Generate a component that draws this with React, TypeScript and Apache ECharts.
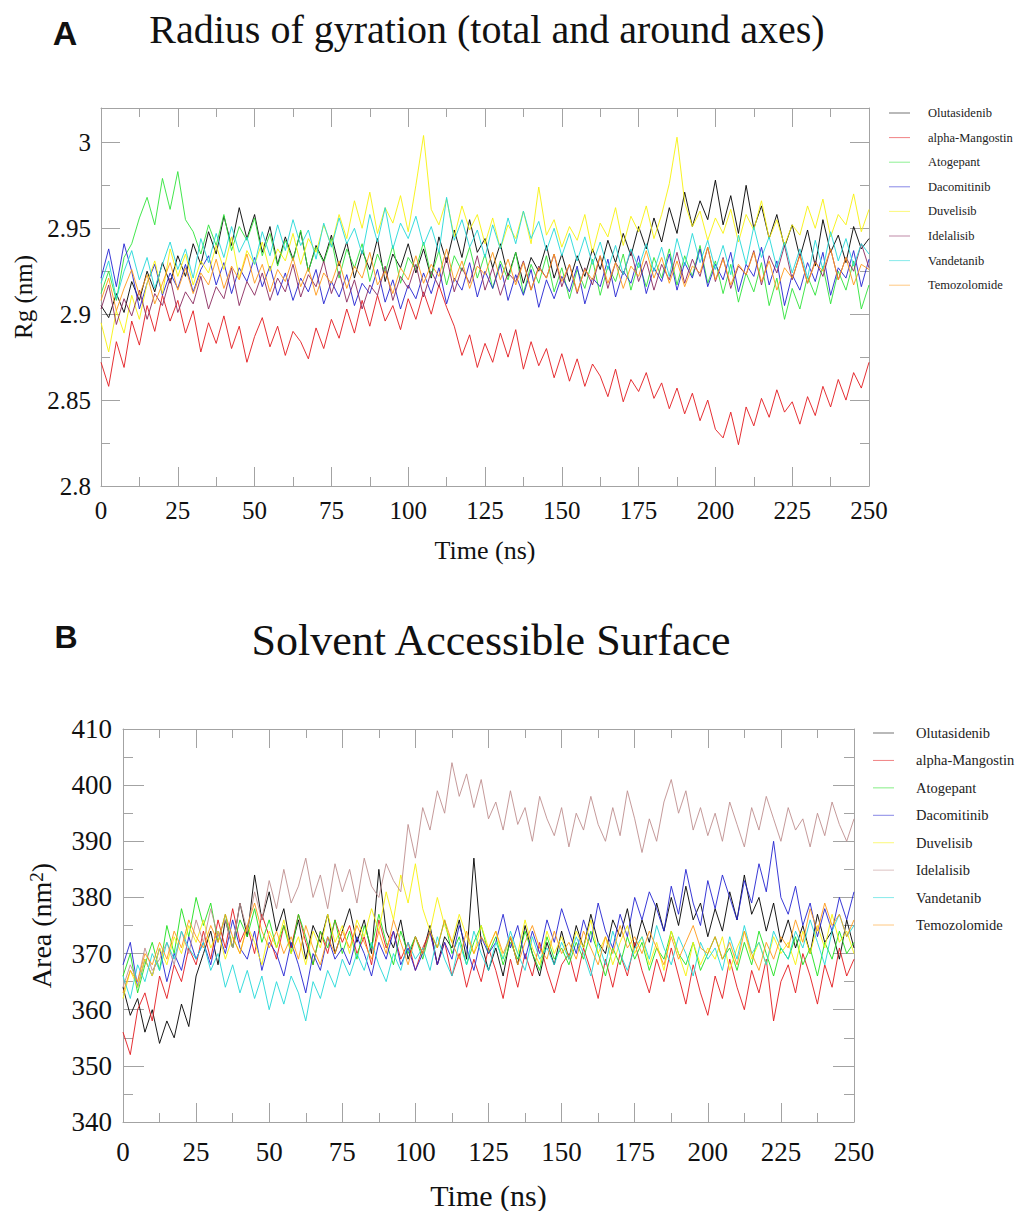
import React, { useEffect, useRef } from "react";
import * as echarts from "echarts";

const NAMES = ["Olutasidenib", "alpha-Mangostin", "Atogepant", "Dacomitinib", "Duvelisib", "Idelalisib", "Vandetanib", "Temozolomide"];
const COLORS_A = ["#000000", "#e3191e", "#2fe33a", "#2424d2", "#f7f20c", "#8c2a5e", "#22d8d8", "#ff9a1a"];
const COLORS_B = ["#000000", "#e3191e", "#1ee01e", "#2424d2", "#f7f20c", "#bf8f8f", "#22d8d8", "#ff9a1a"];

// sampling times (ns), every 2.5 ns from 0 to 250
const TIME_NS: number[] = Array.from({ length: 101 }, (_, i) => i * 2.5);

const X_TICKS = [0, 25, 50, 75, 100, 125, 150, 175, 200, 225, 250];
const RG_TICKS = [2.8, 2.85, 2.9, 2.95, 3];
const AREA_TICKS = [340, 350, 360, 370, 380, 390, 400, 410];

// ---------- Panel A: Radius of gyration (nm) ----------
const RG_OLUTASIDENIB = [
  2.905, 2.898, 2.912, 2.901, 2.919, 2.908, 2.925, 2.913, 2.930, 2.918, 2.934,
  2.922, 2.941, 2.929, 2.948, 2.935, 2.957, 2.940, 2.962, 2.944, 2.958,
  2.936, 2.951, 2.929, 2.945, 2.932, 2.948, 2.925, 2.940, 2.931, 2.946,
  2.928, 2.942, 2.921, 2.937, 2.926, 2.944, 2.919, 2.935, 2.927, 2.941,
  2.924, 2.938, 2.921, 2.945, 2.930, 2.949, 2.933, 2.955, 2.936, 2.944,
  2.927, 2.941, 2.922, 2.936, 2.918, 2.933, 2.925, 2.940, 2.921, 2.935,
  2.919, 2.934, 2.922, 2.938, 2.926, 2.943, 2.930, 2.947, 2.934, 2.951,
  2.938, 2.956, 2.942, 2.962, 2.947, 2.971, 2.951, 2.966, 2.955, 2.978,
  2.952, 2.969, 2.947, 2.975, 2.950, 2.963, 2.944, 2.958, 2.939, 2.952,
  2.933, 2.949, 2.928, 2.955, 2.936, 2.946, 2.930, 2.951, 2.938, 2.944,
];
const RG_ALPHA_MANGOSTIN = [
  2.872, 2.858, 2.884, 2.869, 2.896, 2.882, 2.905, 2.890, 2.911, 2.896, 2.908,
  2.889, 2.902, 2.878, 2.895, 2.883, 2.899, 2.880, 2.893, 2.872, 2.887,
  2.898, 2.881, 2.893, 2.876, 2.890, 2.884, 2.874, 2.892, 2.880, 2.897,
  2.886, 2.903, 2.889, 2.908, 2.893, 2.911, 2.896, 2.905, 2.891, 2.909,
  2.897, 2.913, 2.900, 2.917, 2.904, 2.893, 2.876, 2.888, 2.869, 2.883,
  2.872, 2.889, 2.875, 2.891, 2.868, 2.884, 2.870, 2.880, 2.863, 2.877,
  2.861, 2.874, 2.858, 2.871, 2.864, 2.852, 2.868, 2.849, 2.862, 2.855,
  2.866, 2.851, 2.860, 2.845, 2.857, 2.842, 2.854, 2.838, 2.850, 2.833,
  2.828, 2.843, 2.824, 2.846, 2.835, 2.851, 2.840, 2.856, 2.843, 2.849,
  2.836, 2.852, 2.841, 2.858, 2.846, 2.862, 2.850, 2.866, 2.857, 2.872,
];
const RG_ATOGEPANT = [
  2.912, 2.925, 2.908, 2.933, 2.941, 2.956, 2.968, 2.952, 2.979, 2.961, 2.983,
  2.955, 2.948, 2.935, 2.952, 2.940, 2.958, 2.937, 2.951, 2.943, 2.956,
  2.934, 2.947, 2.928, 2.943, 2.931, 2.949, 2.925, 2.939, 2.930, 2.944,
  2.921, 2.938, 2.927, 2.941, 2.919, 2.935, 2.924, 2.940, 2.918, 2.933,
  2.926, 2.942, 2.922, 2.937, 2.917, 2.934, 2.925, 2.939, 2.921, 2.935,
  2.915, 2.931, 2.920, 2.936, 2.912, 2.929, 2.918, 2.934, 2.913, 2.927,
  2.909, 2.926, 2.915, 2.932, 2.911, 2.928, 2.919, 2.935, 2.914, 2.930,
  2.916, 2.933, 2.921, 2.938, 2.917, 2.934, 2.922, 2.940, 2.918, 2.931,
  2.912, 2.929, 2.907, 2.924, 2.913, 2.930, 2.905, 2.921, 2.897, 2.915,
  2.903, 2.922, 2.911, 2.928, 2.906, 2.925, 2.914, 2.931, 2.903, 2.917,
];
const RG_DACOMITINIB = [
  2.921, 2.938, 2.916, 2.941, 2.925, 2.903, 2.918, 2.929, 2.911, 2.924, 2.915,
  2.929, 2.913, 2.926, 2.934, 2.917, 2.930, 2.912, 2.927, 2.919, 2.933,
  2.916, 2.928, 2.911, 2.924, 2.908, 2.921, 2.913, 2.926, 2.906, 2.919,
  2.910, 2.923, 2.905, 2.918, 2.912, 2.926, 2.907, 2.920, 2.903, 2.917,
  2.909, 2.924, 2.912, 2.927, 2.906, 2.921, 2.914, 2.930, 2.910, 2.925,
  2.915, 2.929, 2.908, 2.923, 2.911, 2.926, 2.904, 2.920, 2.909, 2.922,
  2.913, 2.928, 2.906, 2.921, 2.916, 2.932, 2.910, 2.925, 2.918, 2.934,
  2.912, 2.927, 2.919, 2.935, 2.914, 2.930, 2.921, 2.938, 2.916, 2.929,
  2.920, 2.936, 2.913, 2.929, 2.922, 2.939, 2.917, 2.931, 2.905, 2.923,
  2.914, 2.930, 2.919, 2.936, 2.911, 2.927, 2.921, 2.937, 2.916, 2.932,
];
const RG_DUVELISIB = [
  2.895, 2.878, 2.902, 2.889, 2.911, 2.897, 2.918, 2.931, 2.912, 2.938, 2.922,
  2.935, 2.917, 2.931, 2.924, 2.940, 2.926, 2.945, 2.921, 2.937, 2.929,
  2.942, 2.925, 2.938, 2.931, 2.947, 2.929, 2.944, 2.936, 2.952, 2.940,
  2.958, 2.944, 2.966, 2.950, 2.971, 2.947, 2.962, 2.953, 2.969, 2.948,
  2.975, 3.004, 2.961, 2.952, 2.967, 2.945, 2.963, 2.949, 2.958, 2.941,
  2.956, 2.938, 2.952, 2.944, 2.960, 2.941, 2.974, 2.946, 2.955, 2.939,
  2.951, 2.943, 2.958, 2.936, 2.953, 2.945, 2.962, 2.940, 2.957, 2.948,
  2.963, 2.944, 2.958, 2.976, 3.003, 2.965, 2.951, 2.960, 2.943, 2.956,
  2.947, 2.961, 2.942, 2.958, 2.949, 2.966, 2.944, 2.955, 2.940, 2.952,
  2.946, 2.963, 2.950, 2.967, 2.945, 2.958, 2.952, 2.970, 2.948, 2.961,
];
const RG_IDELALISIB = [
  2.903, 2.917, 2.894, 2.909, 2.899, 2.914, 2.897, 2.912, 2.905, 2.921, 2.901,
  2.913, 2.906, 2.922, 2.903, 2.916, 2.909, 2.927, 2.905, 2.919, 2.911,
  2.924, 2.908, 2.921, 2.913, 2.929, 2.910, 2.923, 2.916, 2.931, 2.912,
  2.925, 2.907, 2.920, 2.903, 2.917, 2.911, 2.928, 2.908, 2.922, 2.915,
  2.929, 2.910, 2.925, 2.916, 2.933, 2.913, 2.927, 2.918, 2.934, 2.914,
  2.927, 2.911, 2.924, 2.919, 2.931, 2.914, 2.928, 2.921, 2.935, 2.916,
  2.929, 2.912, 2.927, 2.917, 2.934, 2.915, 2.930, 2.923, 2.937, 2.919,
  2.931, 2.914, 2.929, 2.920, 2.936, 2.918, 2.932, 2.922, 2.939, 2.919,
  2.933, 2.915, 2.928, 2.923, 2.937, 2.917, 2.934, 2.924, 2.940, 2.920,
  2.935, 2.918, 2.931, 2.922, 2.938, 2.920, 2.933, 2.925, 2.941, 2.927,
];
const RG_VANDETANIB = [
  2.918, 2.931, 2.909, 2.925, 2.937, 2.920, 2.933, 2.915, 2.929, 2.942, 2.926,
  2.938, 2.921, 2.944, 2.930, 2.947, 2.933, 2.951, 2.936, 2.945, 2.929,
  2.948, 2.934, 2.952, 2.937, 2.955, 2.940, 2.949, 2.932, 2.953, 2.939,
  2.956, 2.941, 2.950, 2.935, 2.958, 2.942, 2.962, 2.938, 2.953, 2.944,
  2.957, 2.940, 2.951, 2.936, 2.968, 2.943, 2.955, 2.939, 2.949, 2.933,
  2.952, 2.938, 2.956, 2.941, 2.960, 2.944, 2.954, 2.937, 2.950, 2.934,
  2.947, 2.931, 2.945, 2.929, 2.942, 2.926, 2.940, 2.923, 2.938, 2.927,
  2.941, 2.925, 2.939, 2.922, 2.944, 2.928, 2.947, 2.930, 2.943, 2.926,
  2.940, 2.923, 2.946, 2.929, 2.951, 2.933, 2.945, 2.927, 2.942, 2.924,
  2.938, 2.921, 2.943, 2.926, 2.948, 2.931, 2.944, 2.928, 2.941, 2.935,
];
const RG_TEMOZOLOMIDE = [
  2.908, 2.921, 2.902, 2.915, 2.926, 2.911, 2.923, 2.906, 2.918, 2.930, 2.914,
  2.927, 2.912, 2.924, 2.917, 2.932, 2.915, 2.928, 2.920, 2.935, 2.918,
  2.929, 2.913, 2.926, 2.919, 2.933, 2.916, 2.927, 2.911, 2.924, 2.918,
  2.931, 2.915, 2.928, 2.921, 2.936, 2.917, 2.925, 2.912, 2.927, 2.920,
  2.934, 2.918, 2.929, 2.922, 2.938, 2.919, 2.931, 2.915, 2.928, 2.923,
  2.936, 2.920, 2.932, 2.917, 2.930, 2.914, 2.927, 2.921, 2.935, 2.919,
  2.929, 2.913, 2.926, 2.920, 2.934, 2.918, 2.930, 2.915, 2.928, 2.922,
  2.937, 2.921, 2.933, 2.918, 2.931, 2.916, 2.928, 2.924, 2.939, 2.920,
  2.932, 2.917, 2.929, 2.923, 2.936, 2.919, 2.931, 2.914, 2.927, 2.921,
  2.934, 2.918, 2.930, 2.925, 2.938, 2.920, 2.933, 2.917, 2.929, 2.926,
];

// ---------- Panel B: Solvent accessible surface (nm^2) ----------
const SAS_OLUTASIDENIB = [
  364, 359, 362, 356, 360, 354, 358, 355, 361, 357, 366,
  370, 374, 368, 376, 371, 379, 373, 384, 376, 381,
  374, 378, 371, 376, 369, 375, 372, 377, 370, 374,
  378, 372, 376, 370, 385, 374, 371, 376, 369, 373,
  370, 375, 368, 373, 371, 376, 369, 387, 372, 367,
  371, 366, 373, 368, 375, 370, 366, 372, 368, 374,
  369, 375, 371, 377, 372, 370, 376, 373, 378, 371,
  376, 372, 379, 374, 380, 375, 382, 376, 379, 373,
  378, 374, 381, 376, 384, 377, 380, 374, 379, 372,
  376, 371, 375, 370, 377, 372, 374, 369, 376, 371,
];
const SAS_ALPHA_MANGOSTIN = [
  356, 352, 360, 363, 358, 366, 362, 368, 365, 371, 368,
  374, 369, 376, 371, 378, 372, 375, 370, 377, 373,
  369, 375, 371, 377, 372, 368, 374, 370, 376, 372,
  375, 370, 373, 368, 376, 371, 374, 369, 372, 367,
  371, 374, 368, 372, 366, 370, 364, 369, 365, 371,
  367, 362, 369, 364, 370, 366, 372, 367, 363, 368,
  370, 365, 371, 367, 362, 369, 364, 370, 366, 372,
  367, 363, 369, 365, 371, 366, 361, 368, 363, 359,
  366, 362, 369, 364, 360, 367, 363, 369, 358, 365,
  368, 363, 370, 366, 361, 368, 364, 371, 366, 369,
];
const SAS_ATOGEPANT = [
  366, 370, 363, 368, 372, 367, 375, 370, 378, 373, 380,
  375, 379, 372, 377, 371, 376, 373, 378, 372, 376,
  371, 375, 370, 377, 373, 368, 374, 371, 376, 370,
  374, 369, 375, 371, 377, 372, 368, 374, 370, 373,
  369, 374, 371, 376, 370, 373, 368, 372, 375, 370,
  373, 368, 372, 369, 374, 370, 367, 373, 369, 371,
  368, 372, 369, 374, 370, 366, 371, 368, 373, 369,
  372, 367, 371, 369, 374, 370, 368, 372, 367, 370,
  373, 369, 371, 367, 372, 368, 374, 370, 366, 371,
  369, 373, 368, 371, 366, 372, 369, 374, 370, 372,
];
const SAS_DACOMITINIB = [
  368, 372, 364, 369, 366, 371, 365, 370, 367, 373, 369,
  372, 368, 374, 370, 376, 371, 369, 374, 367, 372,
  370, 366, 372, 368, 363, 370, 367, 373, 369, 371,
  368, 373, 370, 366, 372, 369, 374, 368, 371, 367,
  370, 374, 368, 372, 369, 375, 371, 367, 373, 370,
  372, 377, 371, 375, 369, 374, 370, 376, 372, 378,
  374, 370, 376, 372, 379, 374, 371, 377, 373, 380,
  376, 381, 378, 374, 382, 377, 385, 379, 375, 383,
  378, 384, 380, 376, 383, 379, 386, 381, 390, 380,
  377, 382, 375, 379, 373, 378, 374, 380, 376, 381,
];
const SAS_DUVELISIB = [
  362, 367, 364, 369, 366, 371, 368, 373, 370, 375, 372,
  376, 371, 374, 369, 373, 370, 375, 372, 368, 374,
  371, 376, 370, 373, 368, 374, 371, 377, 372, 375,
  370, 376, 373, 378, 374, 381, 376, 384, 379, 386,
  378, 374, 380, 375, 372, 377, 373, 370, 375, 371,
  374, 369, 373, 370, 376, 371, 368, 374, 370, 373,
  369, 374, 371, 376, 370, 373, 368, 372, 375, 370,
  373, 368, 372, 367, 374, 370, 366, 372, 368, 371,
  369, 373, 367, 371, 374, 369, 372, 368, 373, 370,
  372, 368, 374, 370, 375, 371, 377, 372, 374, 370,
];
const SAS_IDELALISIB = [
  364, 368, 365, 371, 367, 369, 372, 368, 374, 370, 376,
  372, 378, 373, 376, 371, 379, 374, 381, 376, 383,
  378, 385, 379, 382, 387, 380, 384, 378, 386, 381,
  385, 379, 387, 382, 380, 386, 383, 381, 393, 387,
  396, 392, 399, 395, 404, 398, 402, 396, 401, 394,
  397, 392, 399, 393, 396, 390, 398, 394, 391, 396,
  389, 395, 392, 398, 393, 390, 396, 391, 399, 394,
  388, 394, 390, 397, 401, 395, 399, 392, 396, 391,
  395, 390, 397, 393, 389, 396, 392, 398, 394, 390,
  396, 392, 394, 389, 395, 391, 397, 393, 390, 394,
];
const SAS_VANDETANIB = [
  366, 362, 368, 365, 370, 367, 372, 369, 374, 371, 369,
  372, 367, 370, 364, 368, 363, 367, 362, 366, 360,
  365, 361, 366, 363, 358, 365, 362, 367, 364, 369,
  366, 370, 367, 372, 368, 365, 370, 367, 372, 369,
  371, 367, 373, 369, 366, 372, 368, 374, 370, 367,
  372, 369, 374, 370, 367, 373, 369, 371, 368, 372,
  369, 373, 370, 366, 372, 368, 374, 370, 367, 371,
  373, 369, 375, 371, 368, 373, 370, 366, 372, 369,
  371, 367, 373, 369, 375, 370, 372, 368, 374, 371,
  369, 374, 371, 376, 372, 368, 374, 377, 373, 375,
];
const SAS_TEMOZOLOMIDE = [
  363, 367, 365, 370, 368, 372, 369, 374, 371, 376, 373,
  371, 375, 372, 377, 373, 370, 375, 379, 374, 371,
  374, 370, 373, 369, 375, 371, 368, 373, 370, 374,
  371, 375, 372, 369, 374, 370, 376, 372, 368, 373,
  370, 374, 371, 376, 372, 369, 374, 370, 373, 371,
  374, 370, 373, 368, 372, 375, 371, 369, 374, 370,
  372, 369, 374, 371, 368, 373, 370, 375, 371, 373,
  370, 374, 371, 368, 373, 369, 372, 375, 371, 370,
  373, 369, 372, 368, 374, 370, 367, 372, 369, 373,
  371, 376, 372, 378, 374, 379, 375, 377, 373, 376,
];

const RG_SERIES = [RG_OLUTASIDENIB, RG_ALPHA_MANGOSTIN, RG_ATOGEPANT, RG_DACOMITINIB, RG_DUVELISIB, RG_IDELALISIB, RG_VANDETANIB, RG_TEMOZOLOMIDE];
const SAS_SERIES = [SAS_OLUTASIDENIB, SAS_ALPHA_MANGOSTIN, SAS_ATOGEPANT, SAS_DACOMITINIB, SAS_DUVELISIB, SAS_IDELALISIB, SAS_VANDETANIB, SAS_TEMOZOLOMIDE];

const SERIF = '"Liberation Serif", "Times New Roman", "DejaVu Serif", serif';
const AXIS_GRAY = "#a3a3a3";
const TEXT = "#111111";

function pairs(vals: number[]) {
  return vals.map((v, i) => [TIME_NS[i], v]);
}

function tickCfg(len: number) {
  return { show: true, inside: true, length: len, lineStyle: { color: AXIS_GRAY, width: 1 } };
}
function minorCfg(len: number) {
  return { show: true, splitNumber: 2, length: len, lineStyle: { color: AXIS_GRAY, width: 1 } };
}

function xAxisCfg(grid: number, pos: "bottom" | "top", labelSize: number, margin: number, nameSize: number, nameGap: number) {
  const isMain = pos === "bottom";
  return {
    type: "value",
    gridIndex: grid,
    position: pos,
    min: X_TICKS[0],
    max: X_TICKS[X_TICKS.length - 1],
    interval: X_TICKS[1] - X_TICKS[0],
    axisLine: { show: true, onZero: false, lineStyle: { color: AXIS_GRAY, width: 1 } },
    axisTick: tickCfg(19),
    minorTick: minorCfg(9),
    splitLine: { show: false },
    axisLabel: isMain
      ? { show: true, fontFamily: SERIF, fontSize: labelSize, color: TEXT, margin }
      : { show: false },
    name: isMain ? "Time (ns)" : "",
    nameLocation: "middle",
    nameGap,
    nameTextStyle: { fontFamily: SERIF, fontSize: nameSize, color: TEXT },
  };
}

export default function App() {
  const ref = useRef<HTMLDivElement>(null);

  useEffect(() => {
    if (!ref.current) return;
    const chart = echarts.init(ref.current, null, { renderer: "svg" });

    const rgMax = 3.02;

    const yA = (pos: "left" | "right") => ({
      type: "value",
      gridIndex: 0,
      position: pos,
      min: RG_TICKS[0],
      max: rgMax,
      interval: 0.05,
      axisLine: { show: true, onZero: false, lineStyle: { color: AXIS_GRAY, width: 1 } },
      axisTick: tickCfg(19),
      minorTick: minorCfg(9),
      splitLine: { show: false },
      axisLabel:
        pos === "left"
          ? {
              show: true,
              fontFamily: SERIF,
              fontSize: 25,
              color: TEXT,
              margin: 10,
              formatter: (v: number) => {
                const hit = RG_TICKS.find((t) => Math.abs(t - v) < 1e-6);
                return hit === undefined ? "" : String(hit);
              },
            }
          : { show: false },
      name: pos === "left" ? "Rg (nm)" : "",
      nameLocation: "middle",
      nameRotate: 90,
      nameGap: 62,
      nameTextStyle: { fontFamily: SERIF, fontSize: 25, color: TEXT },
    });

    const yB = (pos: "left" | "right") => ({
      type: "value",
      gridIndex: 1,
      position: pos,
      min: AREA_TICKS[0],
      max: AREA_TICKS[AREA_TICKS.length - 1],
      interval: AREA_TICKS[1] - AREA_TICKS[0],
      axisLine: { show: true, onZero: false, lineStyle: { color: AXIS_GRAY, width: 1 } },
      axisTick: tickCfg(21),
      minorTick: minorCfg(10),
      splitLine: { show: false },
      axisLabel: pos === "left" ? { show: true, fontFamily: SERIF, fontSize: 27, color: TEXT, margin: 11 } : { show: false },
      name: pos === "left" ? "Area (nm{s|2})" : "",
      nameLocation: "middle",
      nameRotate: 90,
      nameGap: 68,
      nameTextStyle: {
        fontFamily: SERIF,
        fontSize: 28,
        color: TEXT,
        rich: { s: { fontFamily: SERIF, fontSize: 19, color: TEXT, verticalAlign: "top", lineHeight: 20 } },
      },
    });

    const seriesA = NAMES.map((n, i) => ({
      name: n,
      type: "line",
      xAxisIndex: 0,
      yAxisIndex: 0,
      data: pairs(RG_SERIES[i]),
      symbol: "none",
      showSymbol: false,
      lineStyle: { color: COLORS_A[i], width: 1, opacity: 0.9 },
      itemStyle: { color: COLORS_A[i] },
      emphasis: { disabled: true },
    }));
    const seriesB = NAMES.map((n, i) => ({
      name: n,
      type: "line",
      xAxisIndex: 2,
      yAxisIndex: 2,
      data: pairs(SAS_SERIES[i]),
      symbol: "none",
      showSymbol: false,
      lineStyle: { color: COLORS_B[i], width: 1, opacity: 0.9 },
      itemStyle: { color: COLORS_B[i] },
      emphasis: { disabled: true },
    }));

    const legendCfg = (left: number, top: number, fontSize: number, rowH: number, step: number, pad: number, colors: string[]) => ({
      orient: "vertical",
      left,
      top,
      padding: 0,
      icon: "rect",
      itemWidth: 21,
      itemHeight: 1,
      itemGap: step - rowH,
      selectedMode: false,
      textStyle: { fontFamily: SERIF, fontSize, color: "#222", lineHeight: rowH, padding: [0, 0, 0, pad] },
      data: NAMES.map((n, i) => ({
        name: n,
        icon: "rect",
        itemStyle: { color: colors[i], opacity: 0.55, borderWidth: 0 },
      })),
    });

    chart.setOption({
      animation: false,
      backgroundColor: "#ffffff",
      grid: [
        { left: 101, top: 108, width: 768, height: 378, containLabel: false },
        { left: 123, top: 729, width: 731, height: 394, containLabel: false },
      ],
      xAxis: [
        xAxisCfg(0, "bottom", 25, 12, 26, 51),
        xAxisCfg(0, "top", 25, 12, 26, 51),
        xAxisCfg(1, "bottom", 27, 16, 30, 58),
        xAxisCfg(1, "top", 27, 16, 30, 58),
      ],
      yAxis: [yA("left"), yA("right"), yB("left"), yB("right")],
      legend: [
        legendCfg(889, 106, 12.5, 14, 24.6, 13, COLORS_A),
        legendCfg(873, 725, 14.5, 16, 27.43, 17, COLORS_B),
      ],
      graphic: [
        { type: "text", x: 65, y: 33, style: { text: "A", fontFamily: '"Liberation Sans", Arial, sans-serif', fontWeight: "bold", fontSize: 34, fill: "#111", align: "center", verticalAlign: "middle" } },
        { type: "text", x: 487, y: 29, style: { text: "Radius of gyration (total and around axes)", fontFamily: SERIF, fontSize: 40, fill: "#111", align: "center", verticalAlign: "middle" } },
        { type: "text", x: 66, y: 637, style: { text: "B", fontFamily: '"Liberation Sans", Arial, sans-serif', fontWeight: "bold", fontSize: 32, fill: "#111", align: "center", verticalAlign: "middle" } },
        { type: "text", x: 491, y: 640, style: { text: "Solvent Accessible Surface", fontFamily: SERIF, fontSize: 44, fill: "#111", align: "center", verticalAlign: "middle" } },
      ],
      series: [...seriesA, ...seriesB],
    });

    return () => chart.dispose();
  }, []);

  return <div ref={ref} style={{ position: "fixed", left: 0, top: 0, width: 1019, height: 1211, background: "#fff" }} />;
}
